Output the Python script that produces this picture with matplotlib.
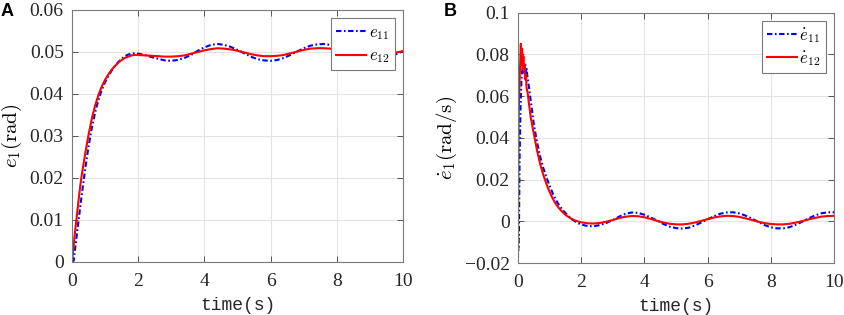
import matplotlib
matplotlib.use("Agg")
import matplotlib.pyplot as plt

plt.rcParams['mathtext.fontset'] = 'cm'

# ---------------- Panel A data ----------------
t_a = [0, 0.05, 0.1, 0.15, 0.2, 0.25, 0.3, 0.4, 0.5, 0.6, 0.7, 0.8, 0.9, 1.0,
       1.1, 1.2, 1.3, 1.4, 1.5, 1.6, 1.7, 1.8, 1.9, 2.0,
       2.2, 2.4, 2.6, 2.8, 3.0, 3.2, 3.4, 3.6, 3.8, 4.0, 4.2, 4.4, 4.6, 4.8,
       5.0, 5.2, 5.4, 5.6, 5.8, 6.0, 6.2, 6.4, 6.6, 6.8, 7.0, 7.2, 7.4, 7.6,
       7.8, 8.0, 8.2, 8.4, 8.6, 8.8, 9.0, 9.2, 9.4, 9.6, 9.8, 10.0]
e11 = [0, 0.0003, 0.0035, 0.0068, 0.0100, 0.0132, 0.0163, 0.0222, 0.0275, 0.0320,
       0.0357, 0.0386, 0.0410, 0.0428, 0.0443, 0.0456, 0.0467, 0.0476, 0.0484,
       0.0490, 0.0494, 0.0496, 0.0497, 0.0496,
       0.0493, 0.0488, 0.0484, 0.0480, 0.0479, 0.0481, 0.0486, 0.0493, 0.0503,
       0.0511, 0.0517, 0.0519, 0.0517, 0.0512, 0.0505, 0.0497, 0.0489, 0.0483,
       0.0480, 0.0479, 0.0481, 0.0486, 0.0493, 0.0501, 0.0509, 0.0515, 0.0518,
       0.0519, 0.0517, 0.0512, 0.0505, 0.0497, 0.0490, 0.0484, 0.0481, 0.0480,
       0.0483, 0.0488, 0.0495, 0.0502]
e12 = [0, 0.0040, 0.0078, 0.0113, 0.0148, 0.0182, 0.0210, 0.0259, 0.0303, 0.0342,
       0.0373, 0.0398, 0.0418, 0.0434, 0.0447, 0.0458, 0.0467, 0.0475, 0.0481,
       0.0486, 0.0489, 0.0492, 0.0493, 0.0493,
       0.0492, 0.0491, 0.0490, 0.0489, 0.0489, 0.0490, 0.0492, 0.0496, 0.0500,
       0.0504, 0.0507, 0.0509, 0.0508, 0.0506, 0.0503, 0.0499, 0.0495, 0.0492,
       0.0490, 0.0490, 0.0491, 0.0493, 0.0497, 0.0501, 0.0505, 0.0508, 0.0509,
       0.0509, 0.0508, 0.0506, 0.0502, 0.0498, 0.0494, 0.0491, 0.0490, 0.0490,
       0.0492, 0.0495, 0.0499, 0.0502]

# ---------------- Panel B data ----------------
t_b1 = [0, 0.01, 0.03, 0.05, 0.08, 0.11, 0.14, 0.17, 0.19, 0.21, 0.23, 0.25,
        0.27, 0.3, 0.35, 0.4, 0.5, 0.6, 0.7, 0.8, 0.9, 1.0, 1.1, 1.2, 1.3,
        1.4, 1.5, 1.6, 1.7, 1.8, 1.9, 2.0, 2.2, 2.4, 2.6, 2.8, 3.0, 3.2, 3.4,
        3.6, 3.8, 4.0, 4.2, 4.4, 4.6, 4.8, 5.0, 5.2, 5.4, 5.6, 5.8, 6.0, 6.2,
        6.4, 6.6, 6.8, 7.0, 7.2, 7.4, 7.6, 7.8, 8.0, 8.2, 8.4, 8.6, 8.8, 9.0,
        9.2, 9.4, 9.6, 9.8, 10.0]
de11 = [0, -0.014, -0.005, 0.030, 0.055, 0.068, 0.073, 0.071, 0.0755, 0.072,
        0.075, 0.071, 0.073, 0.069, 0.064, 0.058, 0.0465, 0.038, 0.031, 0.0255,
        0.021, 0.017, 0.0133, 0.0102, 0.0077, 0.0056, 0.0040, 0.0024, 0.0010,
        0.0000, -0.0009, -0.0016, -0.0023, -0.0024, -0.0018, -0.0008, 0.0006,
        0.0022, 0.0036, 0.0042, 0.0040, 0.0031, 0.0018, 0.0003, -0.0013,
        -0.0026, -0.0033, -0.0035, -0.0031, -0.0020, -0.0006, 0.0009, 0.0024,
        0.0036, 0.0042, 0.0043, 0.0038, 0.0027, 0.0013, -0.0003, -0.0018,
        -0.0029, -0.0034, -0.0034, -0.0028, -0.0016, -0.0002, 0.0014, 0.0028,
        0.0038, 0.0043, 0.0043]

t_b2 = [0, 0.01, 0.02, 0.04, 0.06, 0.08, 0.09, 0.1, 0.11, 0.12, 0.13, 0.15,
        0.17, 0.19, 0.21, 0.23, 0.25, 0.27, 0.3, 0.35, 0.4, 0.5, 0.6, 0.7,
        0.8, 0.9, 1.0, 1.1, 1.2, 1.3, 1.4, 1.5, 1.6, 1.7, 1.8, 1.9, 2.0, 2.2,
        2.4, 2.6, 2.8, 3.0, 3.2, 3.4, 3.6, 3.8, 4.0, 4.2, 4.4, 4.6, 4.8, 5.0,
        5.2, 5.4, 5.6, 5.8, 6.0, 6.2, 6.4, 6.6, 6.8, 7.0, 7.2, 7.4, 7.6, 7.8,
        8.0, 8.2, 8.4, 8.6, 8.8, 9.0, 9.2, 9.4, 9.6, 9.8, 10.0]
de12 = [0, 0.020, 0.050, 0.062, 0.072, 0.080, 0.085, 0.077, 0.083, 0.075,
        0.081, 0.073, 0.079, 0.071, 0.075, 0.068, 0.070, 0.064, 0.062, 0.056,
        0.050, 0.042, 0.034, 0.0275, 0.0222, 0.0178, 0.0140, 0.0108, 0.0082,
        0.0062, 0.0045, 0.0031, 0.0020, 0.0011, 0.0004, -0.0001, -0.0005,
        -0.0010, -0.0011, -0.0008, -0.0002, 0.0006, 0.0015, 0.0022, 0.0025,
        0.0024, 0.0019, 0.0011, 0.0002, -0.0006, -0.0012, -0.0015, -0.0015,
        -0.0012, -0.0006, 0.0002, 0.0010, 0.0018, 0.0023, 0.0026, 0.0025,
        0.0021, 0.0014, 0.0006, -0.0002, -0.0009, -0.0013, -0.0015, -0.0015,
        -0.0012, -0.0006, 0.0001, 0.0009, 0.0016, 0.0022, 0.0025, 0.0026]

xticks = [0, 2, 4, 6, 8, 10]
xtick_labels = ['0', '2', '4', '6', '8', '10']
yticks_a = [0, 0.01, 0.02, 0.03, 0.04, 0.05, 0.06]
ytick_labels_a = ['0', '0.01', '0.02', '0.03', '0.04', '0.05', '0.06']
yticks_b = [-0.02, 0, 0.02, 0.04, 0.06, 0.08, 0.1]
ytick_labels_b = ['\u22120.02', '0', '0.02', '0.04', '0.06', '0.08', '0.1']

tick_font = 'Liberation Serif'
label_font = 'Liberation Mono'
blue_ls = (0, (2.6, 1.2, 0.8, 1.2))

fig = plt.figure(figsize=(8.44, 3.15), dpi=100)
axA = fig.add_axes([72/844, 1-262/315, (403-72)/844, (262-10)/315])
axB = fig.add_axes([518/844, 1-263/315, (834-518)/844, (263-12.5)/315])


def style(ax, yticks, ylabels, ylim):
    ax.set_xlim(0, 10)
    ax.set_ylim(*ylim)
    ax.set_xticks(xticks)
    ax.set_xticklabels(xtick_labels, fontfamily=tick_font, fontsize=14)
    ax.set_yticks(yticks)
    ax.set_yticklabels(ylabels, fontfamily=tick_font, fontsize=14)
    ax.grid(True, color='#e3e3e3', linewidth=0.8)
    ax.set_axisbelow(True)
    ax.tick_params(direction='in', length=4, width=0.7, color='#555555',
                   top=True, right=True, labelcolor='#262626')
    ax.tick_params(axis='x', pad=8)
    ax.tick_params(axis='y', pad=6)
    for s in ax.spines.values():
        s.set_color('#7a7a7a')
        s.set_linewidth(0.8)
    ax.set_xlabel('time(s)', fontfamily=label_font, fontsize=13,
                  color='#262626', labelpad=5)


axA.plot(t_a, e11, color='#0000ff', lw=1.5, ls=blue_ls, label=r'$e_{11}$')
axA.plot(t_a, e12, color='#ff0000', lw=1.5, ls='-', label=r'$e_{12}$')
style(axA, yticks_a, ytick_labels_a, (0, 0.06))
axA.set_ylabel(r'$e_1(\mathrm{rad})$', fontsize=15, labelpad=4)

axB.plot(t_b1, de11, color='#0000ff', lw=1.5, ls=blue_ls, label=r'$\dot{e}_{11}$')
axB.plot(t_b2, de12, color='#ff0000', lw=1.5, ls='-', label=r'$\dot{e}_{12}$')
style(axB, yticks_b, ytick_labels_b, (-0.02, 0.1))
axB.set_ylabel(r'$\dot{e}_1(\mathrm{rad/s})$', fontsize=15, labelpad=4)

for ax in (axA, axB):
    leg = ax.legend(loc='upper right', fontsize=12, handlelength=1.8,
                    handletextpad=0.15, borderpad=0.3, labelspacing=0.25,
                    borderaxespad=0.5, fancybox=False, framealpha=1)
    leg.get_frame().set_edgecolor('#7a7a7a')
    leg.get_frame().set_linewidth(0.8)

fig.text(1/844, 1-3/315, 'A', fontfamily='Liberation Sans', fontweight='bold',
         fontsize=13, va='top', ha='left')
fig.text(444/844, 1-3/315, 'B', fontfamily='Liberation Sans', fontweight='bold',
         fontsize=13, va='top', ha='left')

fig.savefig('out.png', dpi=100)
